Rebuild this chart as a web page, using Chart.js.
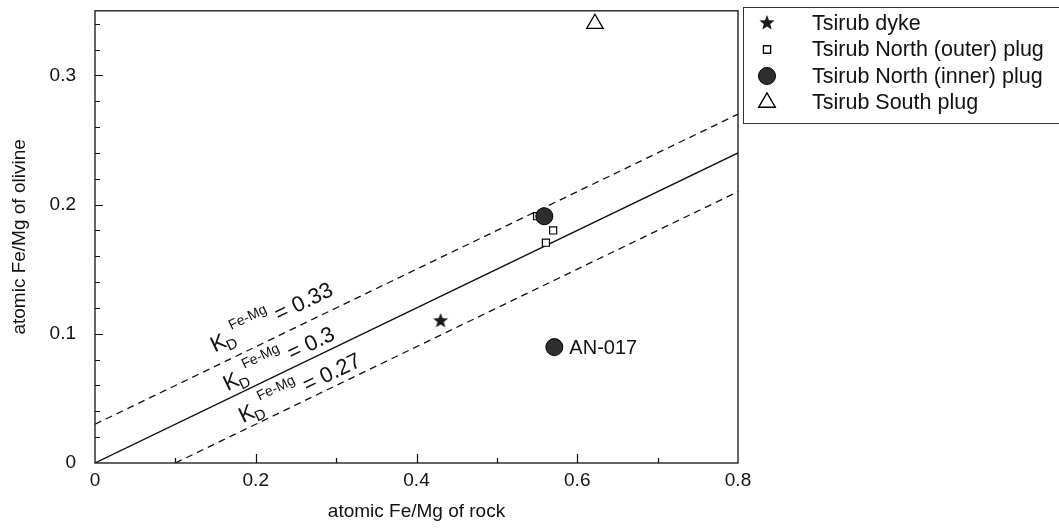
<!DOCTYPE html>
<html><head><meta charset="utf-8">
<script src="https://cdn.jsdelivr.net/npm/chart.js@4/dist/chart.umd.min.js"></script>
<style>html,body{margin:0;padding:0;background:#fff;}#wrap{width:1059px;height:529px;}</style>
</head><body><div id="wrap"><canvas id="c" width="1059" height="529"></canvas></div>
<script>
// ---- data ----
const xTickLabels = [0, 0.2, 0.4, 0.6, 0.8];
const yTickLabels = [0, 0.1, 0.2, 0.3];
const dykeX = [0.43], dykeY = [0.11];
const outerX = [0.55, 0.57, 0.561], outerY = [0.191, 0.18, 0.1705];
const innerX = [0.559, 0.5715], innerY = [0.191, 0.0897];
const southX = [0.622], southY = [0.34];
const kd033X = [0, 0.8], kd033Y = [0.03, 0.27];
const kd030X = [0, 0.8], kd030Y = [0, 0.24];
const kd027X = [0.1, 0.8], kd027Y = [0, 0.21];
const kdValues = ['0.33', '0.3', '0.27'];
const kdLabelX = [0.149, 0.165, 0.184];
const kdLabelY = [0.0856, 0.0555, 0.0308];
const annotText = 'AN-017';
const legendLabels = ['Tsirub dyke', 'Tsirub North (outer) plug', 'Tsirub North (inner) plug', 'Tsirub South plug'];
const xTitle = 'atomic Fe/Mg of rock';
const yTitle = 'atomic Fe/Mg of olivine';

const FONT = "'Liberation Sans', Arial, sans-serif";
const pts = (xs, ys) => xs.map((x, i) => ({x: x, y: ys[i]}));

// filled five-point star image
function makeStar(size, rOut, rIn) {
  const c = document.createElement('canvas');
  c.width = size; c.height = size;
  const g = c.getContext('2d');
  g.beginPath();
  for (let i = 0; i < 10; i++) {
    const r = i % 2 === 0 ? rOut : rIn;
    const a = -Math.PI / 2 + i * Math.PI / 5;
    const px = size / 2 + r * Math.cos(a), py = size / 2 + r * Math.sin(a);
    if (i === 0) g.moveTo(px, py); else g.lineTo(px, py);
  }
  g.closePath();
  g.fillStyle = '#1a1a1a'; g.fill();
  return c;
}
const starImg = makeStar(18, 8, 3.4);

const circleStyle = {pointStyle: 'circle', pointRadius: 8.5, pointBackgroundColor: '#2e2e2e', pointBorderColor: '#000', pointBorderWidth: 1};
const squareStyle = {pointStyle: 'rect', pointRadius: 5, pointBackgroundColor: '#fff', pointBorderColor: '#000', pointBorderWidth: 1.2};
const triStyle = {pointStyle: 'triangle', pointRadius: 9.5, pointBackgroundColor: '#fff', pointBorderColor: '#000', pointBorderWidth: 1.3};

const lineBase = {showLine: true, pointRadius: 0, borderColor: '#111', borderWidth: 1.3, fill: false, order: 5};

const datasets = [
  Object.assign({label: legendLabels[2], data: pts(innerX, innerY), order: 0}, circleStyle),
  Object.assign({label: legendLabels[1], data: pts(outerX, outerY), order: 1}, squareStyle),
  {label: legendLabels[0], data: pts(dykeX, dykeY), pointStyle: starImg, pointRadius: 9, order: 2},
  Object.assign({label: legendLabels[3], data: pts(southX, southY), order: 2}, triStyle),
  Object.assign({label: 'KD 0.33', data: pts(kd033X, kd033Y), borderDash: [7, 5]}, lineBase),
  Object.assign({label: 'KD 0.3', data: pts(kd030X, kd030Y)}, lineBase),
  Object.assign({label: 'KD 0.27', data: pts(kd027X, kd027Y), borderDash: [7, 5]}, lineBase)
];

const decor = {
  id: 'decor',
  afterDraw(chart) {
    const ctx = chart.ctx, xs = chart.scales.x, ys = chart.scales.y, a = chart.chartArea;
    ctx.save();
    ctx.strokeStyle = '#111'; ctx.lineWidth = 1.3;
    ctx.strokeRect(a.left, a.top, a.right - a.left, a.bottom - a.top);
    // inward ticks
    ctx.lineWidth = 1.2;
    ctx.beginPath();
    for (let i = 1; i * 0.02 < ys.max - 1e-9; i++) {
      const v = i * 0.02;
      const major = Math.abs(v * 10 - Math.round(v * 10)) < 1e-6;
      const py = Math.round(ys.getPixelForValue(v)) + 0.5;
      ctx.moveTo(a.left, py); ctx.lineTo(a.left + (major ? 8 : 5), py);
    }
    for (let i = 1; i * 0.1 < xs.max - 1e-9; i++) {
      const v = i * 0.1;
      const major = i % 2 === 0;
      const px = Math.round(xs.getPixelForValue(v)) + 0.5;
      ctx.moveTo(px, a.bottom); ctx.lineTo(px, a.bottom - (major ? 9 : 5));
    }
    ctx.stroke();

    // KD labels
    const ang = Math.atan2(ys.getPixelForValue(kd030Y[1]) - ys.getPixelForValue(kd030Y[0]),
                           xs.getPixelForValue(kd030X[1]) - xs.getPixelForValue(kd030X[0]));
    ctx.fillStyle = '#111';
    ctx.textBaseline = 'alphabetic'; ctx.textAlign = 'left';
    kdValues.forEach((val, i) => {
      ctx.save();
      ctx.translate(xs.getPixelForValue(kdLabelX[i]), ys.getPixelForValue(kdLabelY[i]));
      ctx.rotate(ang);
      ctx.font = '22px ' + FONT;
      ctx.fillText('K', 0, 0);
      const kw = ctx.measureText('K').width;
      ctx.font = '15px ' + FONT;
      ctx.fillText('D', kw - 1, 5);
      ctx.font = '14px ' + FONT;
      const sx = kw + 10;
      ctx.fillText('Fe-Mg', sx, -13);
      const fw = ctx.measureText('Fe-Mg').width;
      ctx.font = '22px ' + FONT;
      ctx.fillText('= ' + val, sx + fw + 6, 0);
      ctx.restore();
    });

    // AN-017 annotation
    ctx.font = '20px ' + FONT;
    ctx.textBaseline = 'middle';
    ctx.fillText(annotText, xs.getPixelForValue(innerX[1]) + 15, ys.getPixelForValue(innerY[1]) + 1);

    // legend
    ctx.strokeStyle = '#333'; ctx.lineWidth = 1;
    ctx.strokeRect(743.5, 7.5, 340, 116);
    const rowY = [23, 49.5, 76, 102.5];
    const symX = 767;
    const H = Chart.helpers;
    ctx.drawImage(starImg, symX - 9, rowY[0] - 9);
    ctx.fillStyle = '#fff'; ctx.strokeStyle = '#000'; ctx.lineWidth = 1.2;
    H.drawPoint(ctx, {pointStyle: 'rect', radius: 5, borderWidth: 1.2}, symX, rowY[1]);
    ctx.fill(); ctx.stroke();
    ctx.fillStyle = '#2e2e2e'; ctx.strokeStyle = '#000'; ctx.lineWidth = 1;
    ctx.beginPath(); ctx.arc(symX, rowY[2], 8.5, 0, Math.PI * 2); ctx.fill(); ctx.stroke();
    ctx.fillStyle = '#fff'; ctx.strokeStyle = '#000'; ctx.lineWidth = 1.3;
    H.drawPoint(ctx, {pointStyle: 'triangle', radius: 9.5, borderWidth: 1.3}, symX, rowY[3]);
    ctx.fill(); ctx.stroke();
    ctx.fillStyle = '#111';
    ctx.font = '21.5px ' + FONT; ctx.textBaseline = 'middle'; ctx.textAlign = 'left';
    legendLabels.forEach((t, i) => ctx.fillText(t, 812, rowY[i] + 1));
    ctx.restore();
  }
};

new Chart(document.getElementById('c'), {
  type: 'scatter',
  data: {datasets: datasets},
  plugins: [decor],
  options: {
    responsive: false, animation: false, devicePixelRatio: 1,
    layout: {padding: {top: 9, right: 321, left: 0, bottom: 0}},
    plugins: {legend: {display: false}, tooltip: {enabled: false}},
    scales: {
      x: {
        type: 'linear', min: 0, max: 0.8,
        afterBuildTicks: s => { s.ticks = xTickLabels.map(v => ({value: v})); },
        afterFit: s => { s.height = 66; s.paddingLeft = 0; s.paddingRight = 0; },
        grid: {display: false}, border: {display: false},
        ticks: {padding: -2, color: '#111', font: {family: FONT, size: 19}, callback: v => String(Math.round(v * 10) / 10)},
        title: {display: true, text: xTitle, color: '#111', font: {family: FONT, size: 19}, padding: {top: 0, bottom: 6}}
      },
      y: {
        type: 'linear', min: 0, max: 0.35,
        afterBuildTicks: s => { s.ticks = yTickLabels.map(v => ({value: v})); },
        afterFit: s => { s.width = 95; s.paddingTop = 0; s.paddingBottom = 0; },
        grid: {display: false}, border: {display: false},
        ticks: {padding: 11, color: '#111', font: {family: FONT, size: 19}, callback: v => String(Math.round(v * 10) / 10)},
        title: {display: true, text: yTitle, color: '#111', font: {family: FONT, size: 19}, padding: {top: 8, bottom: 0}}
      }
    }
  }
});
</script></body></html>
